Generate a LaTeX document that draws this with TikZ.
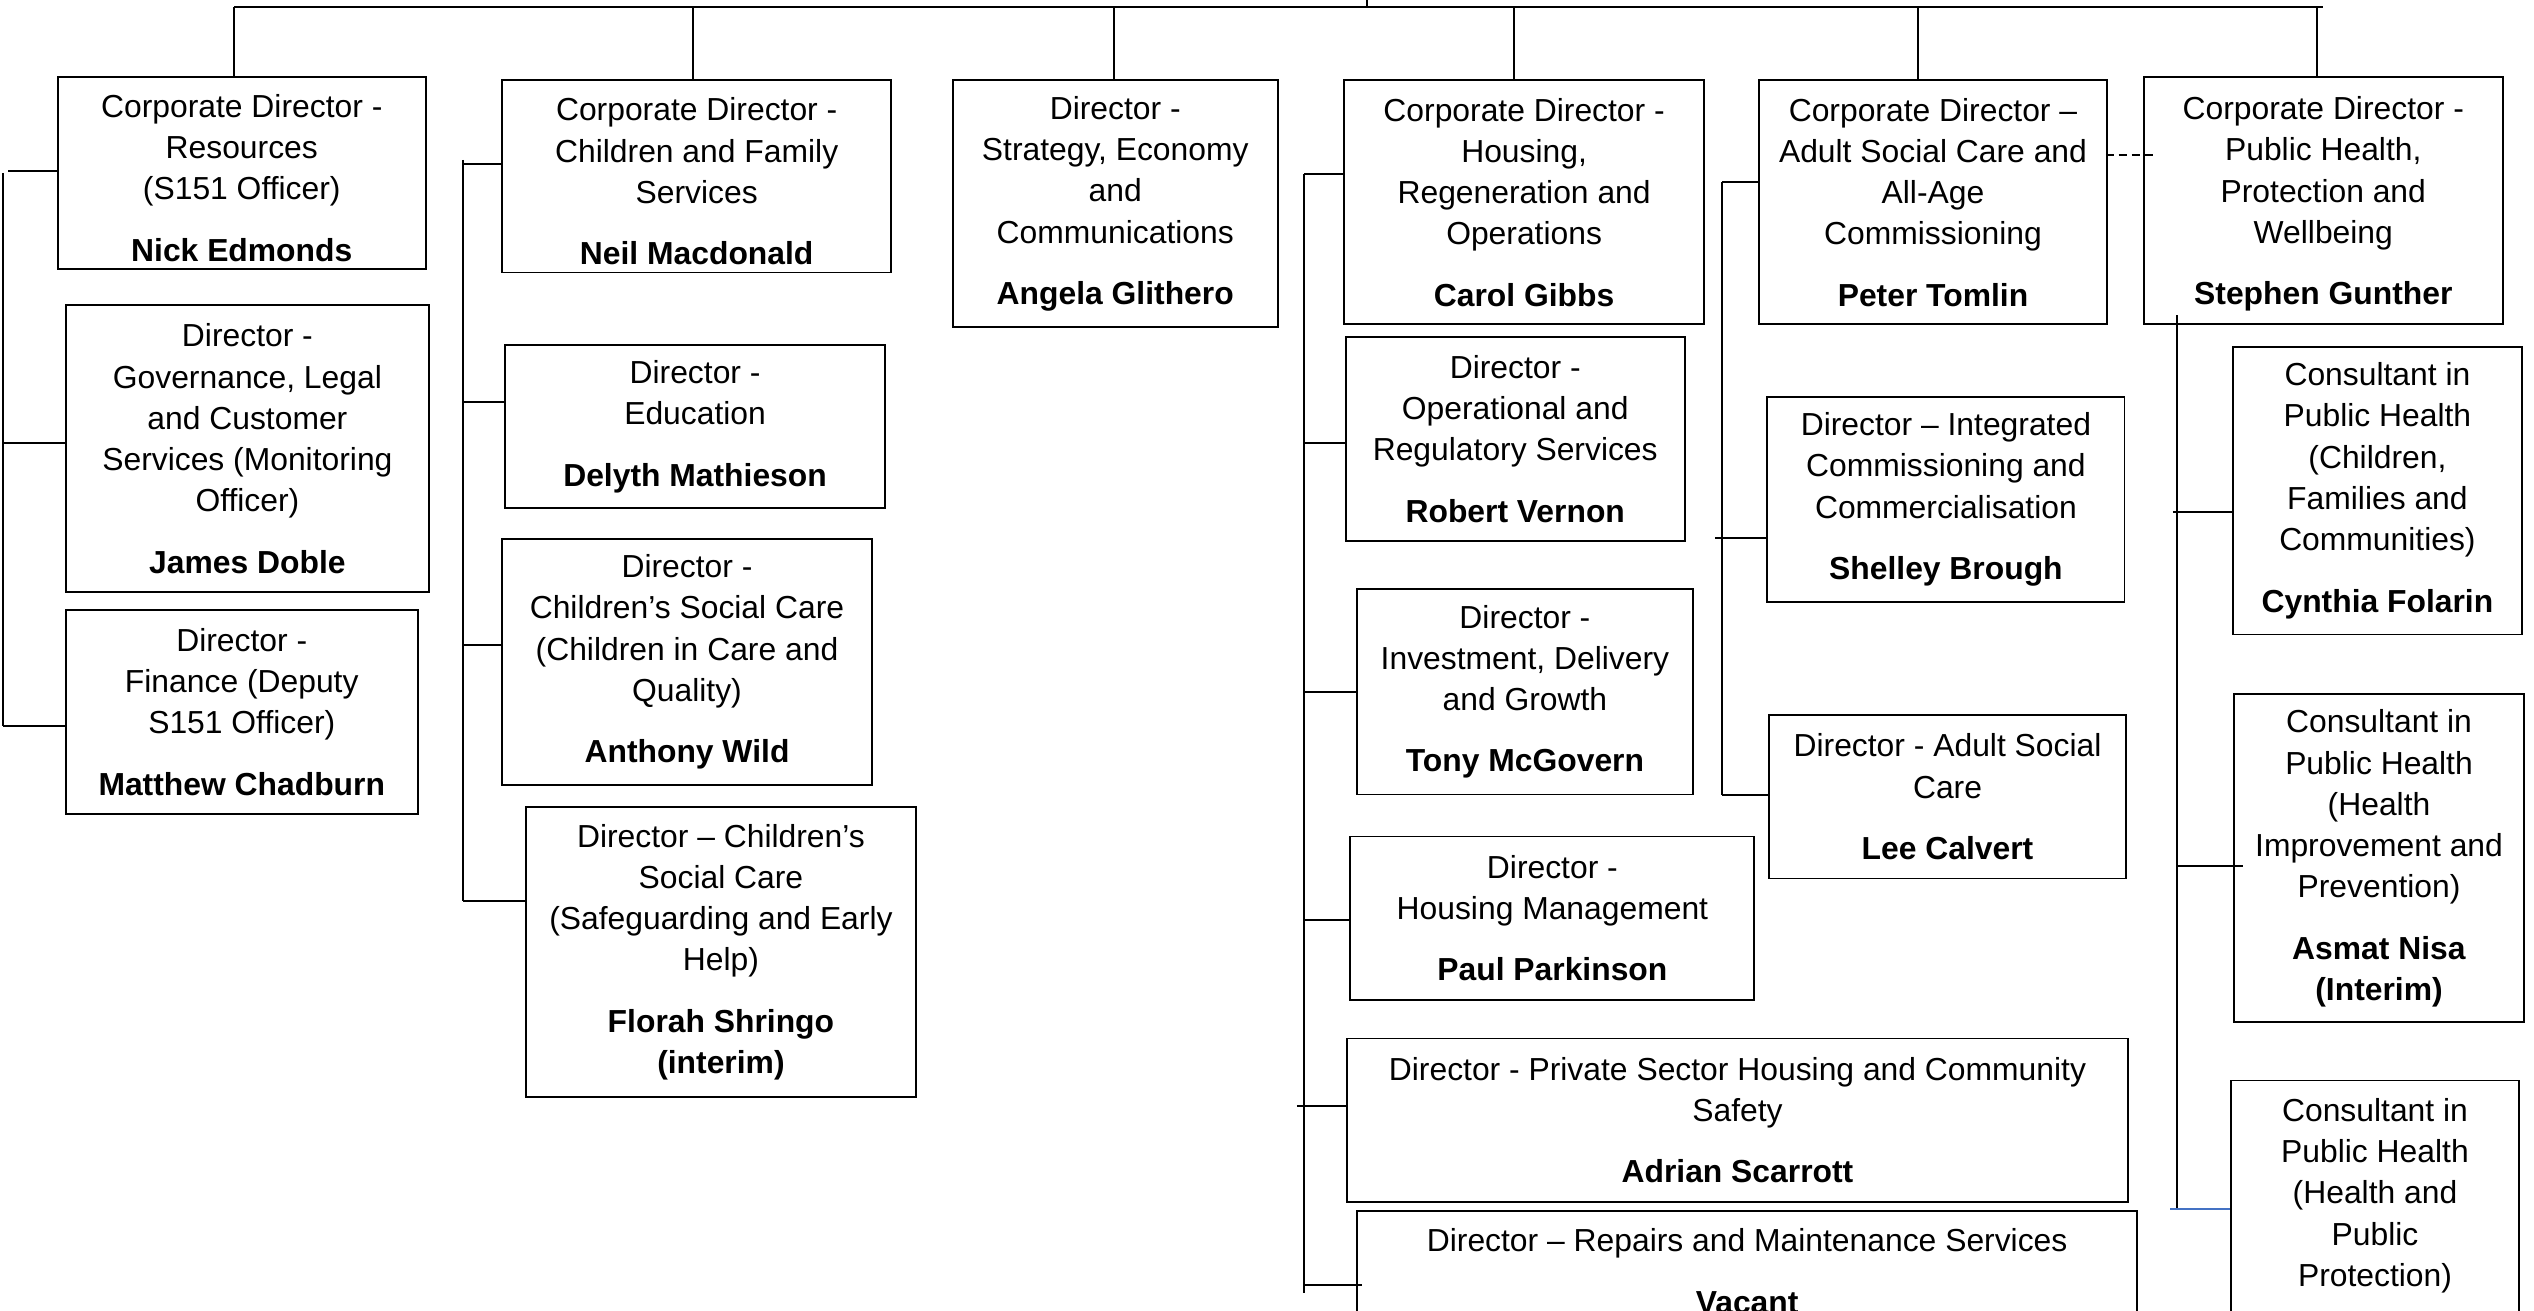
\documentclass[tikz,border=0pt]{standalone}
\usepackage{fontspec}
\setmainfont{Liberation Sans}
\definecolor{tickblue}{HTML}{4472C4}
\tikzset{
  orgbox/.style={draw, line width=1.2pt, anchor=north west, align=center, inner sep=0pt,
    font=\fontsize{19.7pt}{25.5pt}\selectfont},
  link/.style={line width=1.2pt},
  dotlink/.style={line width=1.2pt, dash pattern=on 5pt off 3pt},
}
\newcommand\nm[1]{\\[12.5pt]\textbf{#1}}
\newcommand\orgtick[4][]{\coordinate (#2) at (#3); \draw[link,#1] (#2) -- (#2 -| #4.west);}
\begin{document}
\begin{tikzpicture}[x=1pt,y=-1pt]
\useasboundingbox (0,0) rectangle (1568,811);
\clip (0,0) rectangle (1568,811);

% ---------- boxes ----------
\node[orgbox, minimum width=228pt, minimum height=119pt] (res) at (35,47)
  {\rule{0pt}{20.5pt}Corporate Director -\\Resources\\(S151 Officer)\nm{Nick Edmonds}};
\node[orgbox, minimum width=225pt, minimum height=178pt] (gov) at (40,188)
  {Director -\\Governance, Legal\\and Customer\\Services (Monitoring\\Officer)\nm{James Doble}};
\node[orgbox, minimum width=218pt, minimum height=126pt] (fin) at (40,377)
  {Director -\\Finance (Deputy\\S151 Officer)\nm{Matthew Chadburn}};

\node[orgbox, minimum width=241pt, minimum height=119pt] (cfs) at (310,49)
  {\rule{0pt}{20.5pt}Corporate Director -\\Children and Family\\Services\nm{Neil Macdonald}};
\node[orgbox, minimum width=235pt, minimum height=101pt] (edu) at (312,213)
  {Director -\\Education\nm{Delyth Mathieson}};
\node[orgbox, minimum width=229pt, minimum height=152pt] (csca) at (310,333)
  {Director -\\Children’s Social Care\\(Children in Care and\\Quality)\nm{Anthony Wild}};
\node[orgbox, minimum width=241pt, minimum height=179pt] (cscb) at (325,499)
  {Director – Children’s\\Social Care\\(Safeguarding and Early\\Help)\nm{Florah Shringo}\\\textbf{(interim)}};

\node[orgbox, minimum width=201pt, minimum height=153pt] (sec) at (589,49)
  {Director -\\Strategy, Economy\\and\\Communications\nm{Angela Glithero}};

\node[orgbox, minimum width=223pt, minimum height=151pt] (hro) at (831,49)
  {Corporate Director -\\Housing,\\Regeneration and\\Operations\nm{Carol Gibbs}};
\node[orgbox, minimum width=210pt, minimum height=126pt] (ors) at (832,208)
  {Director -\\Operational and\\Regulatory Services\nm{Robert Vernon}};
\node[orgbox, minimum width=208pt, minimum height=127pt] (idg) at (839,364)
  {Director -\\Investment, Delivery\\and Growth\nm{Tony McGovern}};
\node[orgbox, minimum width=250pt, minimum height=101pt] (hm) at (835,517)
  {Director -\\Housing Management\nm{Paul Parkinson}};
\node[orgbox, minimum width=483pt, minimum height=101pt] (pshcs) at (833,642)
  {Director - Private Sector Housing and Community\\Safety\nm{Adrian Scarrott}};
\node[orgbox, minimum width=483pt, minimum height=74pt] (rms) at (839,749)
  {Director – Repairs and Maintenance Services\nm{Vacant}};

\node[orgbox, minimum width=215pt, minimum height=151pt] (asc) at (1088,49)
  {Corporate Director –\\Adult Social Care and\\All-Age\\Commissioning\nm{Peter Tomlin}};
\node[orgbox, minimum width=221pt, minimum height=127pt] (icc) at (1093,245)
  {Director – Integrated\\Commissioning and\\Commercialisation\nm{Shelley Brough}};
\node[orgbox, minimum width=221pt, minimum height=101pt] (adsc) at (1094,442)
  {Director - Adult Social\\Care\nm{Lee Calvert}};

\node[orgbox, minimum width=222pt, minimum height=153pt] (ph) at (1326,47)
  {\rule{0pt}{18.5pt}Corporate Director -\\Public Health,\\Protection and\\Wellbeing\nm{Stephen Gunther}};
\node[orgbox, minimum width=179pt, minimum height=178pt] (cpha) at (1381,214)
  {Consultant in\\Public Health\\(Children,\\Families and\\Communities)\nm{Cynthia Folarin}};
\node[orgbox, minimum width=179pt, minimum height=203pt] (cphb) at (1382,429)
  {Consultant in\\Public Health\\(Health\\Improvement and\\Prevention)\nm{Asmat Nisa}\\\textbf{(Interim)}};
\node[orgbox, minimum width=178pt, minimum height=176pt] (cphc) at (1380,668)
  {Consultant in\\Public Health\\(Health and\\Public\\Protection)\\[4.5pt]\strut};

% ---------- top bar ----------
\coordinate (ceo) at (846,0);
\coordinate (tl) at (145,4.5);
\coordinate (tr) at (1437.5,4.5);
\draw[link] (tl) -- (tr);
\draw[link] (ceo) -- (ceo |- tl);
\coordinate (d1) at (145,4.5);  \draw[link] (d1) -- (d1 |- res.north);
\coordinate (d2) at (429,4.5);  \draw[link] (d2) -- (d2 |- cfs.north);
\coordinate (d3) at (689.5,4.5);\draw[link] (d3) -- (d3 |- sec.north);
\coordinate (d4) at (937,4.5);  \draw[link] (d4) -- (d4 |- hro.north);
\coordinate (d5) at (1187,4.5); \draw[link] (d5) -- (d5 |- asc.north);
\coordinate (d6) at (1433.5,4.5);\draw[link] (d6) -- (d6 |- ph.north);

% ---------- column 1 ----------
\coordinate (c1a) at (2,107);
\coordinate (c1b) at (2,449);
\draw[link] (c1a) -- (c1b);
\orgtick{t11}{5,106}{res}
\orgtick{t12}{2,274}{gov}
\orgtick{t13}{2,449}{fin}

% ---------- column 2 ----------
\coordinate (c2a) at (286.5,99);
\coordinate (c2b) at (286.5,557.6);
\draw[link] (c2a) -- (c2b);
\orgtick{t21}{286.5,101.7}{cfs}
\orgtick{t22}{286.5,248.7}{edu}
\orgtick{t23}{286.5,399.4}{csca}
\orgtick{t24}{286.5,557.6}{cscb}

% ---------- column 4 ----------
\coordinate (c4a) at (807,107.4);
\coordinate (c4b) at (807,800);
\draw[link] (c4a) -- (c4b);
\orgtick{t41}{807,107.4}{hro}
\orgtick{t42}{807,274.3}{ors}
\orgtick{t43}{807,428.2}{idg}
\orgtick{t44}{807,569}{hm}
\orgtick{t45}{802.5,684.2}{pshcs}
\orgtick[shorten >=-4pt]{t46}{807,795.2}{rms}

% ---------- column 5 ----------
\coordinate (c5a) at (1065.6,112.5);
\coordinate (c5b) at (1065.6,492);
\draw[link] (c5a) -- (c5b);
\orgtick{t51}{1065.6,112.8}{asc}
\orgtick{t52}{1061.3,333}{icc}
\orgtick{t53}{1065.6,492}{adsc}

% dashed link between ASC and Public Health
\coordinate (ds) at (1303,96);
\draw[dotlink, shorten >=-7pt] (ds) -- (ds -| ph.west);

% ---------- column 6 ----------
\coordinate (c6a) at (1347,195);
\coordinate (c6b) at (1347,748);
\draw[link] (c6a) -- (c6b);
\orgtick{t61}{1344.5,317}{cpha}
\orgtick[shorten >=-6pt]{t62}{1348,535.6}{cphb}
\orgtick[tickblue]{t63}{1343,748.2}{cphc}
\end{tikzpicture}
\end{document}
